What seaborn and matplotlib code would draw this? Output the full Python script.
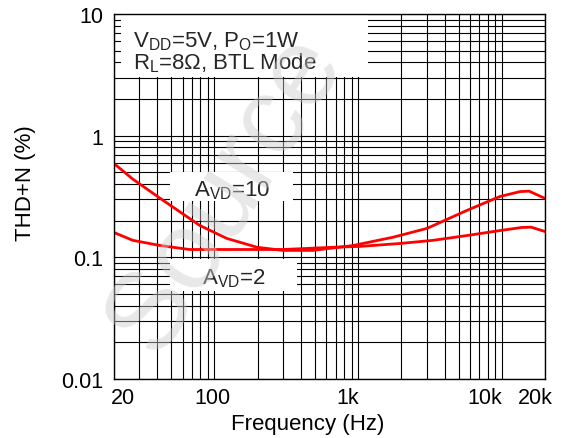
import numpy as np
import pandas as pd
import matplotlib
matplotlib.use("Agg")
import matplotlib.pyplot as plt
import matplotlib.transforms as mtransforms
from matplotlib.patches import Rectangle
import seaborn as sns

# Data
freq_avd10 = [20, 27, 42, 79, 122, 198, 300, 485, 920, 1740, 3020, 5720, 9700, 13400, 15500, 20000]
thd_avd10 = [0.59, 0.44, 0.305, 0.183, 0.143, 0.121, 0.114, 0.114, 0.125, 0.146, 0.173, 0.243, 0.316, 0.347, 0.35, 0.305]
freq_avd2 = [20, 27, 42, 67, 134, 300, 670, 1030, 1960, 3330, 5720, 9700, 13800, 16000, 20000]
thd_avd2 = [0.160, 0.138, 0.125, 0.116, 0.116, 0.116, 0.121, 0.123, 0.130, 0.138, 0.151, 0.166, 0.176, 0.177, 0.163]
x_ticks = [20, 100, 1000, 10000, 20000]
x_ticklabels = ["20", "100", "1k", "10k", "20k"]
y_ticks = [0.01, 0.1, 1, 10]
y_ticklabels = ["0.01", "0.1", "1", "10"]

sns.set_theme(style="white")
plt.rcParams['font.family'] = ['Liberation Sans', 'DejaVu Sans']
plt.rcParams['mathtext.fontset'] = 'custom'
plt.rcParams['mathtext.rm'] = 'Liberation Sans'
plt.rcParams['mathtext.it'] = 'Liberation Sans'

df = pd.concat([
    pd.DataFrame({"f": freq_avd10, "thd": thd_avd10, "s": "AVD10"}),
    pd.DataFrame({"f": freq_avd2, "thd": thd_avd2, "s": "AVD2"}),
])

W, H = 564, 439
L, R, T, B = 114, 545, 15, 380
fig = plt.figure(figsize=(W / 100, H / 100), dpi=100)
ax = fig.add_axes([L / W, 1 - B / H, (R - L) / W, (B - T) / H])
ax.set_xscale("log")
ax.set_yscale("log")
ax.set_xlim(20, 20000)
ax.set_ylim(0.01, 10)

ax.grid(True, which="both", color="black", linewidth=0.8)
ax.set_axisbelow(True)

sns.lineplot(data=df, x="f", y="thd", hue="s", palette={"AVD10": "#ff0000", "AVD2": "#ff0000"},
             linewidth=2.0, legend=False, ax=ax, zorder=3, sort=False)

ax.set_xticks(x_ticks)
ax.set_xticklabels(x_ticklabels)
ax.set_yticks(y_ticks)
ax.set_yticklabels(y_ticklabels)
ax.xaxis.set_minor_locator(matplotlib.ticker.LogLocator(base=10, subs=np.arange(2, 10)))
ax.yaxis.set_minor_locator(matplotlib.ticker.LogLocator(base=10, subs=np.arange(2, 10)))
ax.xaxis.set_minor_formatter(matplotlib.ticker.NullFormatter())
ax.yaxis.set_minor_formatter(matplotlib.ticker.NullFormatter())
ax.tick_params(which="both", length=0, colors="black")
ax.tick_params(axis="y", labelsize=15.5, pad=8)
ax.tick_params(axis="x", labelsize=15.5, pad=6)

# small horizontal nudges of x tick labels (pixels) as placed in the reference
label_nudge_px = [9, -1.5, -10, -17, -10]
for lab, dx in zip(ax.get_xticklabels(), label_nudge_px):
    lab.set_transform(lab.get_transform() + mtransforms.ScaledTranslation(dx / 100, 0, fig.dpi_scale_trans))

for sp in ax.spines.values():
    sp.set_color("black")
    sp.set_linewidth(1.0)
    sp.set_zorder(6)

ax.set_xlabel("Frequency (Hz)", fontsize=16, color="black")
ax.set_ylabel("THD+N (%)", fontsize=16, color="black")
ax.xaxis.set_label_coords((308 - L) / (R - L), -(414 - B) / (B - T))
ax.yaxis.set_label_coords(-(L - 36) / (R - L), (B - 183) / (B - T))

def ax_box(x0, x1, y0, y1):
    # white label backgrounds, pixel extents converted to axes fractions
    ax.add_patch(Rectangle(((x0 - L) / (R - L), (B - y1) / (B - T)),
                           (x1 - x0) / (R - L), (y1 - y0) / (B - T),
                           transform=ax.transAxes, facecolor="white", edgecolor="none", zorder=4))

ax_box(121, 368, T, 78)
ax_box(170, 293, 173, 202)
ax_box(170, 297, 260, 292)

ax.text((133 - L) / (R - L), (B - 47) / (B - T),
        "V$_\\mathregular{DD}$=5V, P$_\\mathregular{O}$=1W", transform=ax.transAxes,
        fontsize=16, va="baseline", ha="left", zorder=5)
ax.text((133 - L) / (R - L), (B - 69) / (B - T),
        "R$_\\mathregular{L}$=8Ω, BTL Mode", transform=ax.transAxes,
        fontsize=16, va="baseline", ha="left", zorder=5)
ax.text((232 - L) / (R - L), (B - 196) / (B - T), "A$_\\mathregular{VD}$=10", transform=ax.transAxes,
        fontsize=16, ha="center", va="baseline", zorder=5)
ax.text((234 - L) / (R - L), (B - 284) / (B - T), "A$_\\mathregular{VD}$=2", transform=ax.transAxes,
        fontsize=16, ha="center", va="baseline", zorder=5)

fig.text(0.40, 0.56, "Source", fontsize=80, color="#cccccc", alpha=0.45,
         rotation=58, ha="center", va="center", zorder=10)

fig.savefig("out.png", dpi=100)
